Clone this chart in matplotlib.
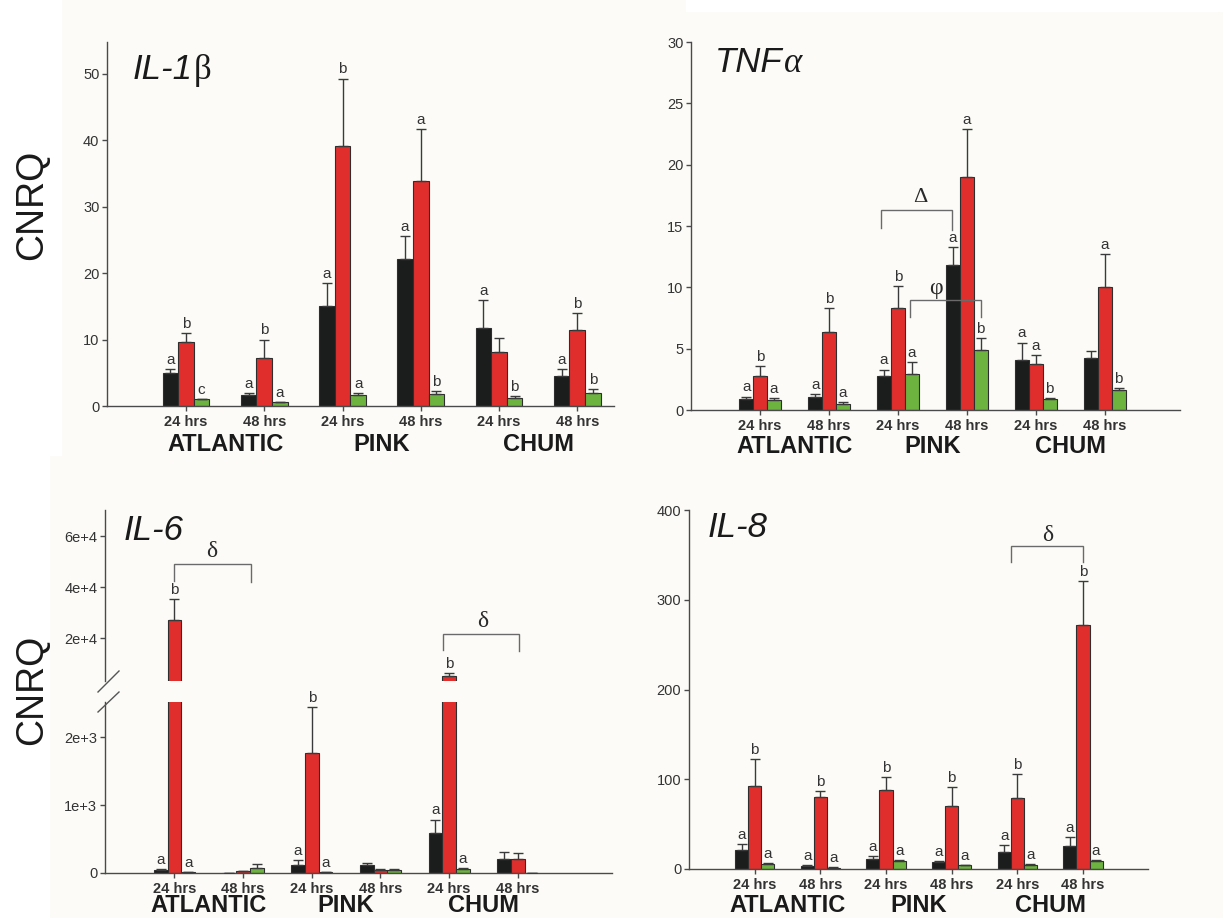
import matplotlib
matplotlib.use("Agg")
import matplotlib.pyplot as plt
import matplotlib.transforms as mtransforms
from matplotlib.patches import Rectangle
from matplotlib.lines import Line2D
import numpy as np

plt.rcParams['font.family'] = ['Liberation Sans', 'DejaVu Sans']

# ---------------- data ----------------
groups = ['ATLANTIC', 'PINK', 'CHUM']
times = ['24 hrs', '48 hrs', '24 hrs', '48 hrs', '24 hrs', '48 hrs']

il1b_black = [5.0, 1.6, 15.0, 22.1, 11.8, 4.5]
il1b_black_err = [0.6, 0.4, 3.5, 3.5, 4.2, 1.1]
il1b_red = [9.7, 7.3, 39.2, 33.8, 8.1, 11.5]
il1b_red_err = [1.3, 2.7, 10.1, 7.9, 2.15, 2.5]
il1b_green = [1.0, 0.55, 1.7, 1.86, 1.2, 2.0]
il1b_green_err = [0.1, 0.1, 0.26, 0.34, 0.3, 0.5]
il1b_let_black = ['a', 'a', 'a', 'a', 'a', 'a']
il1b_let_red = ['b', 'b', 'b', 'a', '', 'b']
il1b_let_green = ['c', 'a', 'a', 'b', 'b', 'b']

tnf_black = [0.9, 1.1, 2.8, 11.8, 4.1, 4.2]
tnf_black_err = [0.2, 0.2, 0.5, 1.5, 1.4, 0.6]
tnf_red = [2.8, 6.33, 8.3, 19.0, 3.75, 10.05]
tnf_red_err = [0.8, 2.0, 1.8, 3.9, 0.75, 2.65]
tnf_green = [0.8, 0.5, 2.9, 4.9, 0.9, 1.6]
tnf_green_err = [0.2, 0.15, 1.0, 1.0, 0.1, 0.2]
tnf_let_black = ['a', 'a', 'a', 'a', 'a', '']
tnf_let_red = ['b', 'b', 'b', 'a', 'a', 'a']
tnf_let_green = ['a', 'a', 'a', 'b', 'b', 'b']

il6_black = [50, 5, 123, 113, 595, 211]
il6_black_err = [10, 2, 74, 34, 191, 99]
il6_red = [27100, 25, 1769, 40, 5150, 211]
il6_red_err = [8200, 5, 678, 24, 1100, 84]
il6_green = [10, 80, 10, 50, 54, 5]
il6_green_err = [2, 48, 2, 14, 25, 1]
il6_let_black = ['a', '', 'a', '', 'a', '']
il6_let_red = ['b', '', 'b', '', 'b', '']
il6_let_green = ['a', '', 'a', '', 'a', '']

il8_black = [21.5, 3.7, 10.8, 7.4, 18.6, 25.2]
il8_black_err = [6.3, 0.8, 3.3, 1.9, 8.1, 10.8]
il8_red = [92.8, 80.1, 88.3, 69.8, 79.0, 272]
il8_red_err = [29.6, 7.1, 13.7, 21.1, 26.8, 48.6]
il8_green = [5.9, 1.5, 8.5, 4.1, 4.8, 8.5]
il8_green_err = [0.8, 0.3, 1.1, 0.7, 0.8, 1.1]
il8_let_black = ['a'] * 6
il8_let_red = ['b'] * 6
il8_let_green = ['a'] * 6

# ---------------- style ----------------
C_BLACK = '#1b1d1d'
C_RED = '#e02e2c'
C_GREEN = '#6db33f'
EDGE = '#2e2e2e'
AXC = '#4a4a4a'
TXT = '#333333'
BG = '#fcfbf7'
BW = 0.2

W, H = 1223, 918
fig = plt.figure(figsize=(W / 100, H / 100), dpi=100)
fig.patch.set_facecolor(BG)
# white margins
fig.patches.append(Rectangle((0, 1 - 456 / H), 62 / W, 456 / H, transform=fig.transFigure,
                             facecolor='white', edgecolor='none', zorder=-10))
fig.patches.append(Rectangle((0, 0), 50 / W, 1 - 456 / H, transform=fig.transFigure,
                             facecolor='white', edgecolor='none', zorder=-10))
fig.patches.append(Rectangle((686 / W, 1 - 12 / H), 1 - 686 / W, 12 / H, transform=fig.transFigure,
                             facecolor='white', edgecolor='none', zorder=-10))


def make_ax(l, t, r, b):
    ax = fig.add_axes([l / W, 1 - b / H, (r - l) / W, (b - t) / H])
    ax.set_facecolor('none')
    for s in ['top', 'right']:
        ax.spines[s].set_visible(False)
    for s in ['left', 'bottom']:
        ax.spines[s].set_color(AXC)
        ax.spines[s].set_linewidth(1.0)
    ax.tick_params(axis='y', direction='out', length=3.5, width=1, color=AXC,
                   labelsize=10.5, labelcolor=TXT, pad=2)
    ax.tick_params(axis='x', direction='out', length=3.5, width=1, color=AXC,
                   labelsize=10.5, labelcolor=TXT, pad=3)
    ax._pix = (l, t, r, b)
    return ax


def draw_bars(ax, xs, black, red, green, bk_e, rd_e, gr_e):
    xs = np.asarray(xs, dtype=float)
    for off, vals, errs, col in [(-BW, black, bk_e, C_BLACK), (0, red, rd_e, C_RED),
                                 (BW, green, gr_e, C_GREEN)]:
        ax.bar(xs + off, vals, width=BW, color=col, edgecolor=EDGE, linewidth=0.8, zorder=2)
        ax.errorbar(xs + off, vals, yerr=[np.zeros(len(vals)), errs], fmt='none',
                    ecolor='#3a3a3a', elinewidth=1.0, capsize=3.5, capthick=1.0, zorder=3)


def draw_letters(ax_for, xs, vals_list, errs_list, lets_list):
    for off, vals, errs, lets in zip([-BW, 0, BW], vals_list, errs_list, lets_list):
        for x, v, e, l in zip(xs, vals, errs, lets):
            if not l:
                continue
            ax = ax_for(v + e)
            ax.annotate(l, (x + off, v + e), xytext=(0, 1.5), textcoords='offset points',
                        ha='center', va='bottom', fontsize=11, color=TXT, zorder=5,
                        annotation_clip=False)


def xlabels(ax, y_grp_base):
    l, t, r, b = ax._pix
    ax.set_xticks(np.arange(6))
    ax.set_xticklabels(times, fontsize=10.5, fontweight='bold', color=TXT)
    tr = mtransforms.blended_transform_factory(ax.transData, ax.transAxes)
    for i, g in enumerate(groups):
        ax.text(2 * i + 0.5, (b - y_grp_base) / (b - t), g, transform=tr, ha='center',
                va='baseline', fontsize=17, fontweight='bold', color='#1a1a1a')


def bracket(ax, x1, x2, ytop, yl1, yl2, sym, sx, sy, va='center', size=16):
    ax.plot([x1, x1, x2, x2], [yl1, ytop, ytop, yl2], color='#6a6a6a', lw=1.0, zorder=4,
            solid_joinstyle='miter')
    ax.text(sx, sy, sym, ha='center', va=va, fontsize=size, color='#2a2a2a',
            family=['Liberation Serif', 'DejaVu Serif'])


def title(px, py, main, greek=None, greek_style='normal'):
    t = fig.text(px / W, 1 - py / H, main, fontsize=25, style='italic', color='#1a1a1a',
                 ha='left', va='baseline')
    if greek:
        fig.canvas.draw()
        bb = t.get_window_extent()
        fig.text(bb.x1 / W + 0.001, 1 - py / H, greek, fontsize=25, style=greek_style,
                 color='#1a1a1a', ha='left', va='baseline',
                 family=['Liberation Serif', 'DejaVu Serif'])


xs = np.arange(6)

# ---------------- IL-1b ----------------
ax1 = make_ax(107, 42, 614, 406)
draw_bars(ax1, xs, il1b_black, il1b_red, il1b_green, il1b_black_err, il1b_red_err, il1b_green_err)
draw_letters(lambda v: ax1, xs, [il1b_black, il1b_red, il1b_green],
             [il1b_black_err, il1b_red_err, il1b_green_err],
             [il1b_let_black, il1b_let_red, il1b_let_green])
ax1.set_xlim(-1.01, 5.47)
ax1.set_ylim(0, 54.8)
ax1.set_yticks([0, 10, 20, 30, 40, 50])
xlabels(ax1, 451)

# ---------------- TNFa ----------------
ax2 = make_ax(691, 42, 1180, 410)
draw_bars(ax2, xs, tnf_black, tnf_red, tnf_green, tnf_black_err, tnf_red_err, tnf_green_err)
draw_letters(lambda v: ax2, xs, [tnf_black, tnf_red, tnf_green],
             [tnf_black_err, tnf_red_err, tnf_green_err],
             [tnf_let_black, tnf_let_red, tnf_let_green])
ax2.set_xlim(-1.0, 6.09)
ax2.set_ylim(0, 30)
ax2.set_yticks([0, 5, 10, 15, 20, 25, 30])
xlabels(ax2, 453)
bracket(ax2, 1.75, 2.79, 16.3, 14.8, 14.7, 'Δ', 2.33, 17.3, size=16)
bracket(ax2, 2.17, 3.2, 8.97, 7.55, 7.55, 'φ', 2.55, 9.45, va='baseline', size=17)

# ---------------- IL-6 (broken axis) ----------------
ax3u = make_ax(105, 510, 612, 681)
ax3l = make_ax(105, 702, 612, 873)
for a in (ax3u, ax3l):
    draw_bars(a, xs, il6_black, il6_red, il6_green, il6_black_err, il6_red_err, il6_green_err)
    a.set_xlim(-1.01, 6.37)
ax3u.set_ylim(3140, 70200)
ax3l.set_ylim(0, 2515)
ax3u.spines['bottom'].set_visible(False)
ax3u.tick_params(axis='x', bottom=False, labelbottom=False)
ax3u.set_yticks([20000, 40000, 60000])
ax3u.set_yticklabels(['2e+4', '4e+4', '6e+4'])
ax3l.set_yticks([0, 1000, 2000])
ax3l.set_yticklabels(['0', '1e+3', '2e+3'])
draw_letters(lambda v: ax3u if v > 2515 else ax3l, xs, [il6_black, il6_red, il6_green],
             [il6_black_err, il6_red_err, il6_green_err],
             [il6_let_black, il6_let_red, il6_let_green])
xlabels(ax3l, 912)
bracket(ax3u, 0.0, 1.12, 48900, 42500, 42150, 'δ', 0.546, 53900, size=17)
bracket(ax3u, 3.91, 5.02, 21560, 15440, 14800, 'δ', 4.49, 26500, size=17)
for (x0, y0, x1_, y1_) in [(98, 692, 119, 671), (98, 712, 119, 692)]:
    fig.add_artist(Line2D([x0 / W, x1_ / W], [1 - y0 / H, 1 - y1_ / H], color='#555555', lw=1.0,
                          transform=fig.transFigure))

# ---------------- IL-8 ----------------
ax4 = make_ax(689, 510, 1148, 869)
draw_bars(ax4, xs, il8_black, il8_red, il8_green, il8_black_err, il8_red_err, il8_green_err)
draw_letters(lambda v: ax4, xs, [il8_black, il8_red, il8_green],
             [il8_black_err, il8_red_err, il8_green_err],
             [il8_let_black, il8_let_red, il8_let_green])
ax4.set_xlim(-1.0, 5.99)
ax4.set_ylim(0, 400)
ax4.set_yticks([0, 100, 200, 300, 400])
xlabels(ax4, 912)
bracket(ax4, 3.91, 5.0, 359.6, 341.7, 342.4, 'δ', 4.46, 372, size=17)

# ---------------- titles & y labels ----------------
title(133, 79, 'IL-1', 'β')
title(715, 72, 'TNF', 'α', greek_style='italic')
title(124, 540, 'IL-6')
title(708, 537, 'IL-8')

fig.text(32 / W, 1 - 205 / H, 'CNRQ', rotation=90, fontsize=27, ha='center', va='center',
         color='#1a1a1a')
fig.text(32 / W, 1 - 690 / H, 'CNRQ', rotation=90, fontsize=27, ha='center', va='center',
         color='#1a1a1a')

fig.savefig('out.png', dpi=100, facecolor=fig.get_facecolor())
